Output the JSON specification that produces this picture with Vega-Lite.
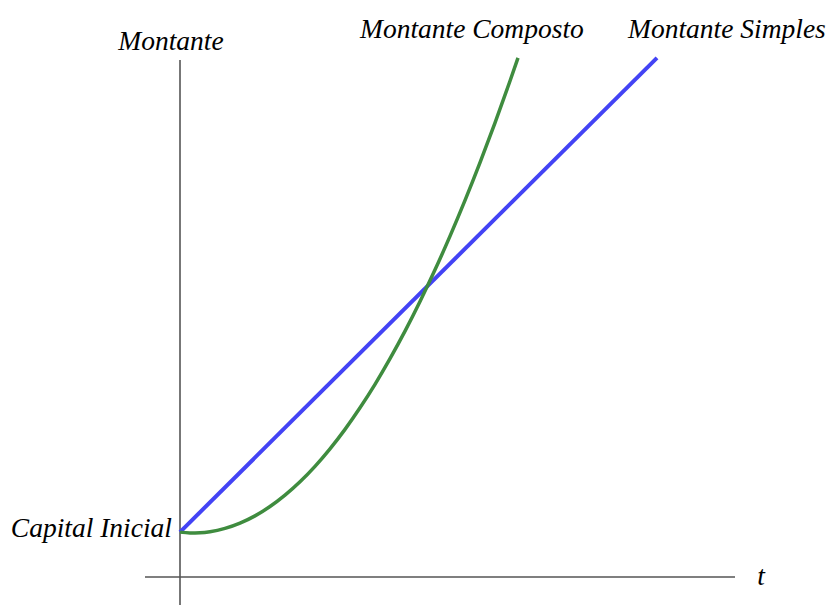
{
  "$schema": "https://vega.github.io/schema/vega-lite/v6.json",
  "width": 827,
  "height": 606,
  "padding": 0,
  "autosize": {"type": "fit", "contains": "padding"},
  "background": "white",
  "config": {"view": {"stroke": null}},
  "datasets": {
    "axes": [
      {"x": -35, "x2": 555, "y": 0, "y2": 0},
      {"x": 0, "x2": 0, "y": 518, "y2": -28}
    ],
    "simples": [
      {"t": 0, "m": 45},
      {"t": 477, "m": 520}
    ],
    "composto": [
      {"t": 0, "m": 45},
      {"t": 10, "m": 44.2},
      {"t": 20, "m": 44.4},
      {"t": 30, "m": 45.4},
      {"t": 45, "m": 48.7},
      {"t": 60, "m": 54.0},
      {"t": 75, "m": 61.3},
      {"t": 90, "m": 70.6},
      {"t": 105, "m": 82.0},
      {"t": 120, "m": 95.4},
      {"t": 135, "m": 110.9},
      {"t": 150, "m": 128.4},
      {"t": 165, "m": 147.9},
      {"t": 180, "m": 169.5},
      {"t": 195, "m": 193.0},
      {"t": 210, "m": 218.7},
      {"t": 225, "m": 246.3},
      {"t": 240, "m": 276.0},
      {"t": 255, "m": 307.7},
      {"t": 270, "m": 341.5},
      {"t": 285, "m": 377.3},
      {"t": 300, "m": 415.1},
      {"t": 315, "m": 455.0},
      {"t": 330, "m": 496.9},
      {"t": 338, "m": 520.0}
    ],
    "labels": [
      {"label": "Montante", "x": -9, "y": 528, "pos": "center"},
      {"label": "Montante Composto", "x": 180, "y": 540, "pos": "left"},
      {"label": "Montante Simples", "x": 448, "y": 540, "pos": "left"},
      {"label": "Capital Inicial", "x": -8, "y": 40, "pos": "right"},
      {"label": "t", "x": 581, "y": -8, "pos": "center"}
    ]
  },
  "layer": [
    {
      "data": {"name": "axes"},
      "mark": {"type": "rule", "color": "#555555", "strokeWidth": 1.6},
      "encoding": {
        "x": {"field": "x", "type": "quantitative", "scale": {"domain": [-180, 647], "nice": false, "zero": false}, "axis": null},
        "x2": {"field": "x2"},
        "y": {"field": "y", "type": "quantitative", "scale": {"domain": [-28, 578], "nice": false, "zero": false}, "axis": null},
        "y2": {"field": "y2"}
      }
    },
    {
      "data": {"name": "simples"},
      "mark": {"type": "line", "color": "#4343f5", "strokeWidth": 4, "strokeCap": "butt"},
      "encoding": {
        "x": {"field": "t", "type": "quantitative"},
        "y": {"field": "m", "type": "quantitative"}
      }
    },
    {
      "data": {"name": "composto"},
      "mark": {"type": "line", "color": "#3f8c3f", "strokeWidth": 3.5, "interpolate": "monotone", "strokeCap": "butt"},
      "encoding": {
        "x": {"field": "t", "type": "quantitative"},
        "y": {"field": "m", "type": "quantitative"}
      }
    },
    {
      "data": {"name": "labels"},
      "transform": [{"filter": "datum.pos === 'center'"}],
      "mark": {"type": "text", "align": "center", "baseline": "alphabetic", "font": "Liberation Serif", "fontStyle": "italic", "fontSize": 27.5, "color": "#000000"},
      "encoding": {
        "x": {"field": "x", "type": "quantitative"},
        "y": {"field": "y", "type": "quantitative"},
        "text": {"field": "label"}
      }
    },
    {
      "data": {"name": "labels"},
      "transform": [{"filter": "datum.pos === 'left'"}],
      "mark": {"type": "text", "align": "left", "baseline": "alphabetic", "font": "Liberation Serif", "fontStyle": "italic", "fontSize": 27.5, "color": "#000000"},
      "encoding": {
        "x": {"field": "x", "type": "quantitative"},
        "y": {"field": "y", "type": "quantitative"},
        "text": {"field": "label"}
      }
    },
    {
      "data": {"name": "labels"},
      "transform": [{"filter": "datum.pos === 'right'"}],
      "mark": {"type": "text", "align": "right", "baseline": "alphabetic", "font": "Liberation Serif", "fontStyle": "italic", "fontSize": 27.5, "color": "#000000"},
      "encoding": {
        "x": {"field": "x", "type": "quantitative"},
        "y": {"field": "y", "type": "quantitative"},
        "text": {"field": "label"}
      }
    }
  ]
}
